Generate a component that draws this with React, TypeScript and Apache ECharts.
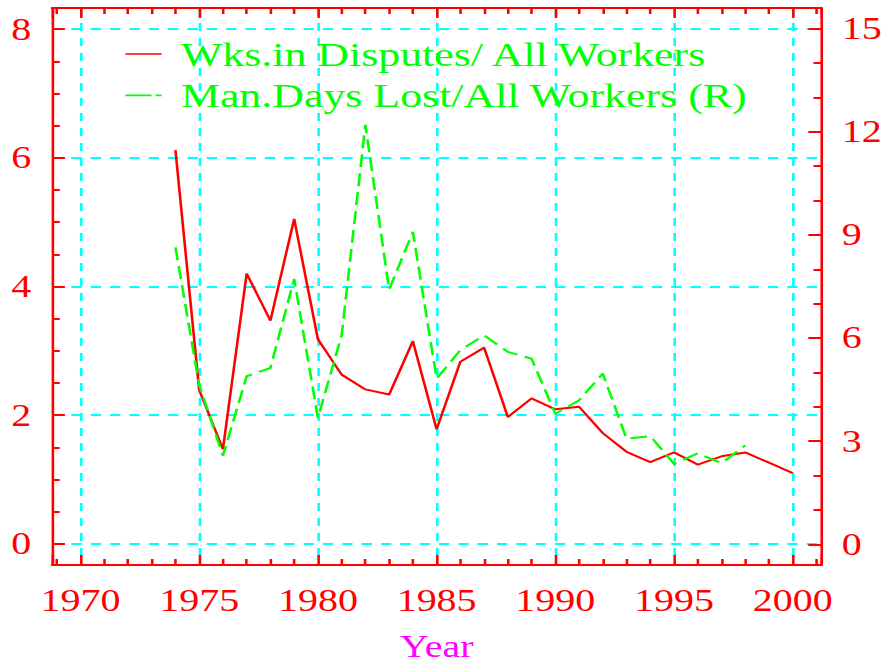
import React, { useEffect, useRef } from "react";
import * as echarts from "echarts";

// ---- data ----
const years: number[] = [
  1974, 1975, 1976, 1977, 1978, 1979, 1980, 1981, 1982, 1983, 1984, 1985, 1986, 1987,
  1988, 1989, 1990, 1991, 1992, 1993, 1994, 1995, 1996, 1997, 1998, 1999, 2000,
];
// Weeks in disputes / all workers (left axis)
const wksInDisputes: number[] = [
  6.12, 2.39, 1.47, 4.2, 3.47, 5.05, 3.18, 2.63, 2.4, 2.32, 3.15, 1.78, 2.83, 3.05,
  1.97, 2.26, 2.09, 2.13, 1.72, 1.43, 1.27, 1.42, 1.23, 1.36, 1.42, 1.26, 1.1,
];
// Man days lost / all workers (right axis), 1974-1998
const manDaysLost: number[] = [
  8.64, 4.63, 2.58, 4.89, 5.13, 7.72, 3.68, 6.08, 12.2, 7.41, 9.09, 4.82, 5.65, 6.08,
  5.6, 5.4, 3.8, 4.19, 4.97, 3.07, 3.15, 2.34, 2.65, 2.36, 2.88,
];
const seriesNames: string[] = ["Wks.in Disputes/ All Workers", "Man.Days Lost/All Workers (R)"];
const xAxisName = "Year";

const STRETCH = 1.29;
const W = 886 / STRETCH;
const H = 666;
const FONT = "'Liberation Serif', 'Times New Roman', serif";
const RED = "#ff0000";
const GREEN = "#00ff00";
const CYAN = "#00ffff";
const MAGENTA = "#ff00ff";

const isMult = (v: number, m: number) => Math.abs(v / m - Math.round(v / m)) < 1e-6;

export default function App() {
  const ref = useRef<HTMLDivElement>(null);
  useEffect(() => {
    if (!ref.current) return;
    const chart = echarts.init(ref.current, undefined, { renderer: "svg" });
    const tickLine = { color: RED, width: 2 };
    const axisLine = { show: true, onZero: false, lineStyle: { color: RED, width: 2 } };
    const gridLine = { color: CYAN, width: 2, type: [8, 7] as number[] };
    const xCommon = {
      type: "value" as const,
      min: 1968.8,
      max: 2001.2,
      splitNumber: 6,
      axisLine,
      axisTick: { show: true, inside: true, length: 10, lineStyle: tickLine },
      minorTick: { show: true, splitNumber: 5, length: 6, lineStyle: tickLine },
    };
    const option: any = {
      animation: false,
      textStyle: { fontFamily: FONT },
      grid: {
        left: 52 / STRETCH,
        right: W - 821 / STRETCH,
        top: 8,
        bottom: H - 565,
        containLabel: false,
        outerBoundsMode: "none",
      },
      legend: {
        orient: "vertical",
        left: 119 / STRETCH,
        top: 32,
        itemWidth: 28,
        itemHeight: 2,
        itemGap: 7.4,
        textStyle: { color: GREEN, fontSize: 34, fontFamily: FONT, padding: [0, 0, 0, 10] },
        data: [
          { name: seriesNames[0], icon: "path://M0,0h36v2h-36z" },
          { name: seriesNames[1], icon: "path://M0,0h26v2h-26z M30,0h6v2h-6z" },
        ],
      },
      xAxis: [
        {
          ...xCommon,
          position: "bottom",
          name: xAxisName,
          nameLocation: "middle",
          nameGap: 66,
          nameTextStyle: { color: MAGENTA, fontSize: 31, fontFamily: FONT },
          axisLabel: {
            color: RED,
            fontSize: 31,
            fontFamily: FONT,
            margin: 20,
            formatter: (v: number) => (isMult(v, 5) ? String(Math.round(v)) : ""),
          },
          splitLine: { show: true, showMinLine: false, showMaxLine: false, lineStyle: gridLine },
        },
        {
          ...xCommon,
          position: "top",
          axisLabel: { show: false },
          splitLine: { show: false },
        },
      ],
      yAxis: [
        {
          type: "value",
          position: "left",
          min: -0.33,
          max: 8.33,
          splitNumber: 4,
          axisLine,
          axisTick: { show: true, inside: true, length: 10, lineStyle: tickLine },
          minorTick: { show: true, splitNumber: 4, length: 6, lineStyle: tickLine },
          axisLabel: {
            color: RED,
            fontSize: 31,
            fontFamily: FONT,
            margin: 16,
            formatter: (v: number) => (isMult(v, 2) ? String(Math.round(v)) : ""),
          },
          splitLine: { show: true, showMinLine: false, showMaxLine: false, lineStyle: gridLine },
        },
        {
          type: "value",
          position: "right",
          min: -0.6,
          max: 15.6,
          splitNumber: 5,
          axisLine,
          axisTick: { show: true, inside: true, length: 10, lineStyle: tickLine },
          minorTick: { show: true, splitNumber: 3, length: 6, lineStyle: tickLine },
          axisLabel: {
            color: RED,
            fontSize: 31,
            fontFamily: FONT,
            margin: 16,
            formatter: (v: number) => (isMult(v, 3) ? String(Math.round(v)) : ""),
          },
          splitLine: { show: false },
        },
      ],
      series: [
        {
          name: seriesNames[0],
          type: "line",
          xAxisIndex: 0,
          yAxisIndex: 0,
          symbol: "none",
          data: years.map((y, i) => [y, wksInDisputes[i]]),
          lineStyle: { color: RED, width: 2 },
          itemStyle: { color: RED },
        },
        {
          name: seriesNames[1],
          type: "line",
          xAxisIndex: 0,
          yAxisIndex: 1,
          symbol: "none",
          data: manDaysLost.map((v, i) => [years[i], v]),
          lineStyle: { color: GREEN, width: 2, type: [13, 6] },
          itemStyle: { color: GREEN },
        },
      ],
    };
    chart.setOption(option);
    return () => chart.dispose();
  }, []);

  return (
    <div
      style={{
        position: "fixed",
        left: 0,
        top: 0,
        width: 886,
        height: H,
        overflow: "hidden",
        background: "#ffffff",
      }}
    >
      <div
        ref={ref}
        style={{
          width: W,
          height: H,
          transform: `scaleX(${STRETCH})`,
          transformOrigin: "0 0",
        }}
      />
    </div>
  );
}
